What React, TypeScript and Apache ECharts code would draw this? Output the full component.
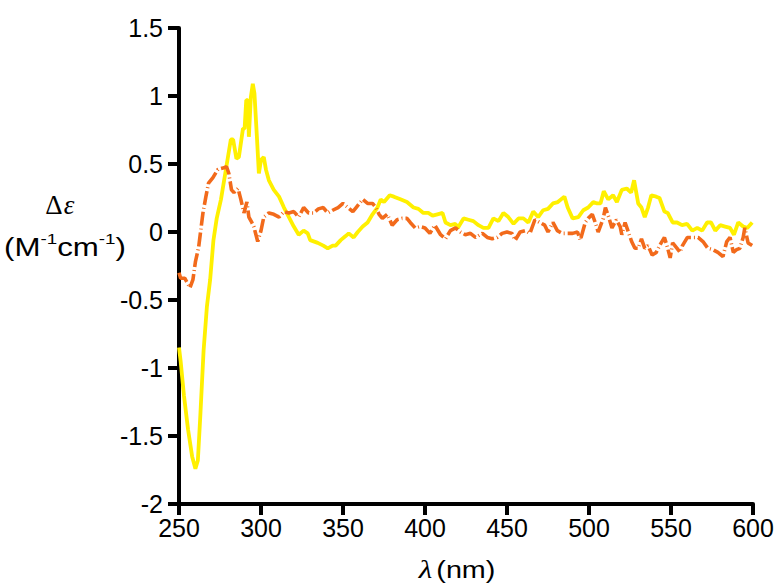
import React, { useEffect, useRef } from "react";
import * as echarts from "echarts";

// Wavelengths (nm) and Δε values
const yellowNm = [250, 251, 253, 255.5, 258, 260, 261.5, 263, 265, 267, 269, 271, 273, 275.6, 278.6, 281.6, 283, 285, 286.5, 289, 290, 291, 292, 292.6, 293.8, 295, 296, 297.5, 298.7, 300, 301.7, 303, 304.8, 307.8, 311, 314, 317, 320, 323, 326, 328.5, 330, 334.6, 338, 340.7, 343.7, 345.5, 348.6, 351.6, 353.5, 356.5, 359, 362, 365, 368, 371, 373, 375, 378.5, 381, 385, 389, 393, 396, 399, 402, 404.6, 407.6, 410.7, 412.5, 415.5, 418.6, 420, 423.5, 426.5, 429.5, 432.6, 435.6, 438.7, 441.7, 444.8, 447.8, 450.8, 454, 457, 460, 463, 466, 469, 472, 475, 478, 481, 485, 487, 490, 493.5, 496.5, 499.5, 502.6, 505, 507, 509, 511.7, 514.7, 517, 520, 523, 525.7, 527.5, 530, 532, 534, 536, 538, 541, 543, 546, 548, 551, 553.7, 556.7, 559.8, 563, 566, 569, 572, 574.4, 577, 580, 583, 586, 588.4, 591, 594, 596.5, 599.5];
const yellowDe = [-0.85, -0.95, -1.2, -1.45, -1.65, -1.74, -1.68, -1.35, -0.87, -0.55, -0.35, -0.06, 0.1, 0.24, 0.46, 0.68, 0.68, 0.54, 0.55, 0.76, 0.76, 0.97, 0.97, 0.7, 0.99, 1.09, 1.02, 0.7, 0.43, 0.53, 0.55, 0.46, 0.38, 0.31, 0.26, 0.18, 0.11, 0.04, -0.02, 0.01, -0.01, -0.06, -0.08, -0.1, -0.12, -0.1, -0.1, -0.06, -0.03, -0.01, -0.04, 0, 0.04, 0.07, 0.13, 0.18, 0.24, 0.22, 0.27, 0.26, 0.24, 0.22, 0.18, 0.17, 0.14, 0.14, 0.12, 0.13, 0.14, 0.07, 0.05, 0.06, 0.03, 0.1, 0.09, 0.08, 0.05, 0.03, 0.03, 0.1, 0.08, 0.14, 0.11, 0.06, 0.1, 0.1, 0.07, 0.15, 0.11, 0.16, 0.17, 0.21, 0.22, 0.26, 0.18, 0.1, 0.11, 0.16, 0.18, 0.22, 0.21, 0.21, 0.3, 0.24, 0.27, 0.22, 0.31, 0.32, 0.29, 0.38, 0.21, 0.18, 0.11, 0.18, 0.27, 0.26, 0.25, 0.15, 0.14, 0.07, 0.07, 0.05, 0.06, 0.01, 0.03, 0.01, 0.07, 0.07, 0.01, 0.05, 0.04, 0.03, -0.02, 0.07, 0.04, 0.03, 0.07];

const orangeNm = [250, 251, 253.5, 256.7, 258.5, 260, 262, 264.6, 266.4, 268, 270.7, 273.7, 276.8, 279, 280.4, 282, 283.5, 286, 287.7, 289.6, 291.4, 292.6, 294.4, 295.6, 298, 300, 301.7, 304.8, 307.8, 311, 314, 317, 320, 323, 326, 329, 332, 335, 338, 340.7, 343.7, 347, 350, 353, 356, 358, 362, 365, 368, 370, 372, 374, 377, 380, 383, 386, 389, 391, 394, 397, 400, 403, 406, 409.5, 412.5, 415.5, 418.6, 421.6, 424.6, 427.7, 430.8, 435, 438, 441, 444, 447, 450, 453, 455, 458, 461, 464, 467, 470, 473, 475, 478, 480.7, 483.7, 486.8, 490, 493, 494.7, 497.7, 499.5, 502, 503.8, 505.6, 508.7, 510, 512, 514, 516.6, 519, 520, 522, 524, 526, 528, 530, 532, 534, 536, 538.5, 541, 543, 546, 548, 549.5, 551, 553.7, 555.5, 557, 560, 563.5, 566.5, 569.5, 572.5, 575.6, 578.6, 581.7, 584, 586, 588, 590, 592, 594, 595, 597, 599.5];
const orangeDe = [-0.3, -0.34, -0.34, -0.41, -0.35, -0.22, -0.11, 0.14, 0.26, 0.36, 0.4, 0.46, 0.47, 0.48, 0.43, 0.31, 0.29, 0.32, 0.24, 0.14, 0.22, 0.11, 0.07, 0.04, -0.07, 0.01, 0.11, 0.14, 0.13, 0.11, 0.15, 0.14, 0.15, 0.11, 0.18, 0.14, 0.14, 0.17, 0.18, 0.14, 0.16, 0.18, 0.21, 0.18, 0.15, 0.18, 0.24, 0.21, 0.21, 0.18, 0.13, 0.1, 0.13, 0.05, 0.09, 0.1, 0.1, 0.07, 0.03, 0.04, 0.03, -0.01, 0.05, -0.02, -0.05, 0.01, 0.03, 0, -0.02, -0.01, -0.04, -0.01, -0.04, -0.05, -0.04, -0.01, 0, -0.01, -0.06, 0, 0.01, -0.01, 0.09, 0.07, 0.05, 0, 0.07, 0.01, -0.01, -0.01, -0.01, 0, -0.06, 0.07, 0.1, 0.13, 0.07, 0, 0.1, 0.18, 0.11, 0.03, 0.09, 0.04, -0.02, 0.07, 0, -0.07, -0.12, -0.12, -0.05, -0.12, -0.1, -0.17, -0.15, -0.1, -0.04, -0.12, -0.19, -0.08, -0.12, -0.15, -0.1, -0.04, -0.04, -0.04, -0.07, -0.12, -0.13, -0.15, -0.18, -0.07, -0.04, -0.15, -0.13, -0.12, -0.04, 0.03, -0.08, -0.1];

const xMin = 250;
const xMax = 600;
const xStep = 50;
const yMin = -2;
const yMax = 1.5;
const yStep = 0.5;

const zip = (xs: number[], ys: number[]) => xs.map((x, i) => [x, ys[i]]);

export default function App() {
  const ref = useRef<HTMLDivElement>(null);
  useEffect(() => {
    if (!ref.current) return;
    const chart = echarts.init(ref.current, undefined, { renderer: "svg" });
    const sans = "'Liberation Sans', Arial, sans-serif";
    const serif = "'Liberation Serif', 'Times New Roman', serif";
    const axisCommon = {
      axisLine: { show: true, onZero: false, lineStyle: { color: "#000", width: 4 } },
      axisTick: { show: true, length: 11, lineStyle: { color: "#000", width: 4 } },
      splitLine: { show: false },
    };
    chart.setOption({
      animation: false,
      backgroundColor: "#fff",
      grid: { left: 179, right: 26, top: 28, bottom: 80 },
      xAxis: {
        type: "value",
        min: xMin,
        max: xMax,
        interval: xStep,
        ...axisCommon,
        axisLabel: { color: "#000", fontSize: 25, fontFamily: sans, margin: 11 },
      },
      yAxis: {
        type: "value",
        min: yMin,
        max: yMax,
        interval: yStep,
        ...axisCommon,
        axisLabel: { color: "#000", fontSize: 25, fontFamily: sans, margin: 16 },
      },
      series: [
        {
          type: "line",
          data: zip(yellowNm, yellowDe),
          showSymbol: false,
          symbol: "none",
          lineStyle: { color: "#FFF000", width: 3.8 },
          z: 2,
        },
        {
          type: "line",
          data: zip(orangeNm, orangeDe),
          showSymbol: false,
          symbol: "none",
          lineStyle: { color: "#F26A1B", width: 3.6, type: [14, 3, 1, 3] },
          z: 3,
        },
      ],
      graphic: [
        {
          type: "text",
          x: 54,
          y: 205,
          style: {
            text: "Δ",
            fontSize: 27,
            fontFamily: serif,
            fill: "#000",
            align: "center",
            verticalAlign: "middle",
            textAlign: "center",
            textVerticalAlign: "middle",
          },
        },
        {
          type: "text",
          x: 69,
          y: 205,
          style: {
            text: "ε",
            fontSize: 27,
            fontStyle: "italic",
            fontFamily: serif,
            fill: "#000",
            align: "center",
            verticalAlign: "middle",
            textAlign: "center",
            textVerticalAlign: "middle",
          },
        },
        {
          type: "text",
          x: 65,
          y: 247,
          scaleX: 1.25,
          style: {
            text: "{n|(M}{s|-1}{n|cm}{s|-1}{n|)}",
            align: "center",
            verticalAlign: "middle",
            textAlign: "center",
            textVerticalAlign: "middle",
            rich: {
              n: { fontFamily: sans, fontSize: 25, lineHeight: 30, fill: "#000" },
              s: { fontFamily: sans, fontSize: 15, lineHeight: 30, verticalAlign: "top", fill: "#000" },
            },
          },
        },
        {
          type: "text",
          x: 457,
          y: 570,
          scaleX: 1.25,
          style: {
            text: "{l|λ} {n|(nm)}",
            align: "center",
            verticalAlign: "middle",
            textAlign: "center",
            textVerticalAlign: "middle",
            rich: {
              l: { fontFamily: serif, fontSize: 25, fontStyle: "italic", fill: "#000" },
              n: { fontFamily: sans, fontSize: 23, fill: "#000" },
            },
          },
        },
      ],
    });
    return () => chart.dispose();
  }, []);
  return (
    <div
      ref={ref}
      style={{ position: "fixed", left: 0, top: 0, width: 779, height: 584, background: "#fff" }}
    />
  );
}
